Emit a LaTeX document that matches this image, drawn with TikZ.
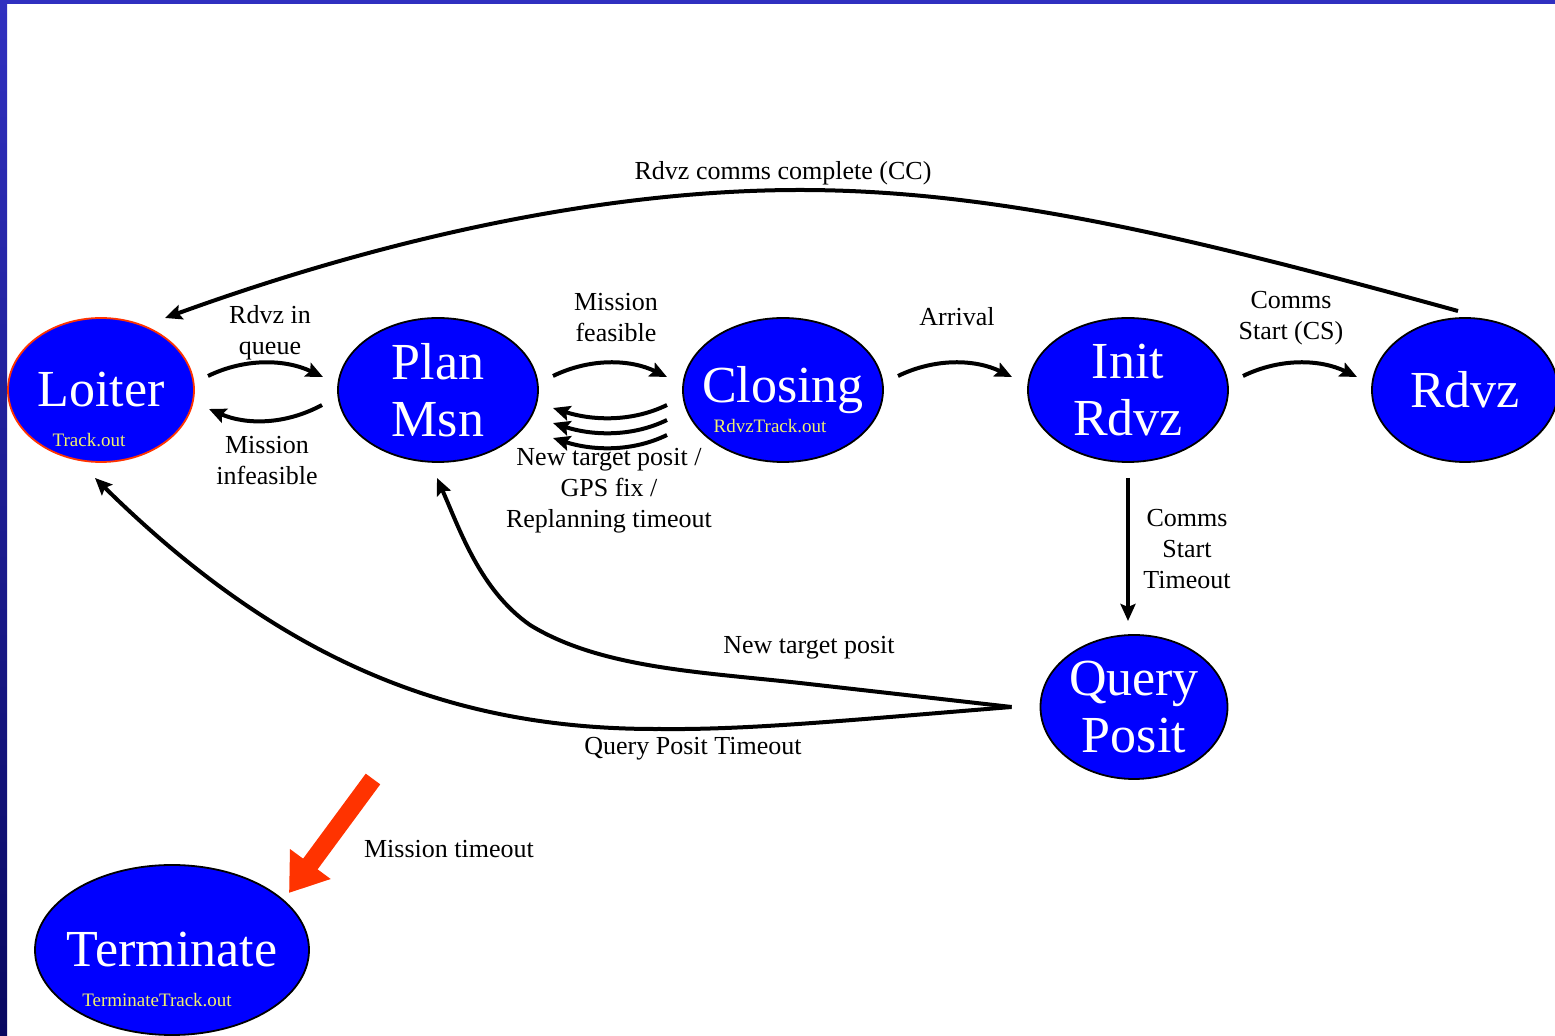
\documentclass[tikz,border=0pt]{standalone}
\usepackage{fontspec}
\setmainfont{Liberation Serif}
\usetikzlibrary{shapes.geometric,arrows.meta,calc}
\definecolor{stblue}{RGB}{0,0,255}
\definecolor{edgeblue}{RGB}{48,48,192}
\definecolor{darkblue}{RGB}{8,8,96}
\definecolor{redarrow}{RGB}{255,51,0}
\definecolor{yel}{RGB}{240,240,110}
\tikzset{
  st/.style={ellipse, draw=black, line width=0.9pt, fill=stblue, text=white,
    font=\fontsize{26}{28.5}\selectfont, align=center, inner xsep=-15pt, inner ysep=-10pt,
    minimum width=100pt, minimum height=72pt},
  sub/.style={text=yel, font=\fontsize{9.5}{11}\selectfont, inner sep=0pt},
  lbl/.style={font=\fontsize{13}{15.5}\selectfont, align=center, inner sep=0pt},
  arr/.style={line width=2pt, -{Stealth[length=8.5pt,width=7.5pt,inset=1.5pt]}},
}
\begin{document}
\begin{tikzpicture}[x=0.5pt,y=-0.5pt]
\useasboundingbox (0,0) rectangle (1555,1036);
\fill[white] (0,0) rectangle (1555,1036);
\shade[top color=edgeblue, bottom color=darkblue] (0,0) rectangle (7,1036);
\fill[edgeblue] (0,0) rectangle (1555,4);

% states
\node[st, minimum width=93pt, draw=redarrow] (lo) at (101,390) {Loiter};
\node[st] (pm) at (438,390) {Plan\\Msn};
\node[st] (cl) at (783,390) {Closing};
\node[st] (ir) at (1128,390) {Init\\Rdvz};
\node[st, minimum width=93pt] (rd) at (1465,390) {Rdvz};
\node[st, minimum width=93.5pt] (qp) at (1134,707) {Query\\Posit};
\node[st, minimum width=137pt, minimum height=85pt] (te) at (172,950) {Terminate};

\node[sub] (lot) at ($(lo)+(-12,50)$) {Track.out};
\node[sub] (clt) at ($(cl)+(-13,36)$) {RdvzTrack.out};
\node[sub] (tet) at ($(te)+(-15,50)$) {TerminateTrack.out};

% short transitions
\draw[arr] ($(lo)+(107,-14)$) .. controls +(37,-18) and +(-38,-18) .. ($(pm)+(-115,-13)$);
\draw[arr] ($(pm)+(-116,15)$) .. controls +(-37,20) and +(37,16) .. ($(lo)+(108,19)$);
\draw[arr] ($(pm)+(115,-14)$) .. controls +(37,-18) and +(-37,-18) .. ($(cl)+(-116,-13)$);
\draw[arr] ($(cl)+(-116,15)$) .. controls +(-37,18) and +(37,12) .. ($(pm)+(115,18)$);
\draw[arr] ($(cl)+(-116,30)$) .. controls +(-37,18) and +(37,12) .. ($(pm)+(115,33)$);
\draw[arr] ($(cl)+(-116,45)$) .. controls +(-37,18) and +(37,12) .. ($(pm)+(115,48)$);
\draw[arr] ($(cl)+(115,-14)$) .. controls +(37,-18) and +(-37,-18) .. ($(ir)+(-116,-13)$);
\draw[arr] ($(ir)+(115,-14)$) .. controls +(37,-18) and +(-37,-18) .. ($(rd)+(-108,-13)$);
\draw[arr] ($(ir)+(0,88)$) -- ($(qp)+(-6,-86)$);

% long transitions
\draw[arr] ($(rd)+(-7,-79)$) .. controls (1200,240) and (1000,190) .. (800,190)
  .. controls (600,190) and (380,240) .. ($(lo)+(64,-72)$);
\coordinate (qj) at ($(qp.west)+(-28,0)$);
\draw[arr] (qj) -- (800,683) .. controls (700,672) and (600,668) .. (530,625)
  .. controls (480,590) and (460,530) .. ($(pm)+(-1,88)$);
\draw[arr] (qj) .. controls (850,720) and (750,730) .. (660,729)
  .. controls (450,730) and (280,660) .. ($(lo)+(-6,88)$);

% mission timeout
\coordinate (rs) at (373,779);
\draw[line width=9pt, redarrow, -{Triangle[length=18pt,width=24pt]}] (rs) -- ($(te)+(117,-57)$);

% labels
\node[lbl] (l1) at (783,173) {Rdvz comms complete (CC)};
\node[lbl] (l2) at (270,333) {Rdvz in\\queue};
\node[lbl] (l3) at (267,461) {Mission\\infeasible};
\node[lbl] (l4) at (616,318) {Mission\\feasible};
\node[lbl] (l5) at (609,491) {New target posit /\\GPS fix /\\Replanning timeout};
\node[lbl] (l6) at (957,317) {Arrival};
\node[lbl] (l7) at (1291,318) {Comms\\Start (CS)};
\node[lbl] (l8) at (1187,549) {Comms\\Start\\Timeout};
\node[lbl] (l9) at (809,648) {New target posit};
\node[lbl] (l10) at (693,749) {Query Posit Timeout};
\node[lbl] (l11) at (449,849) {Mission timeout};
\end{tikzpicture}
\end{document}
